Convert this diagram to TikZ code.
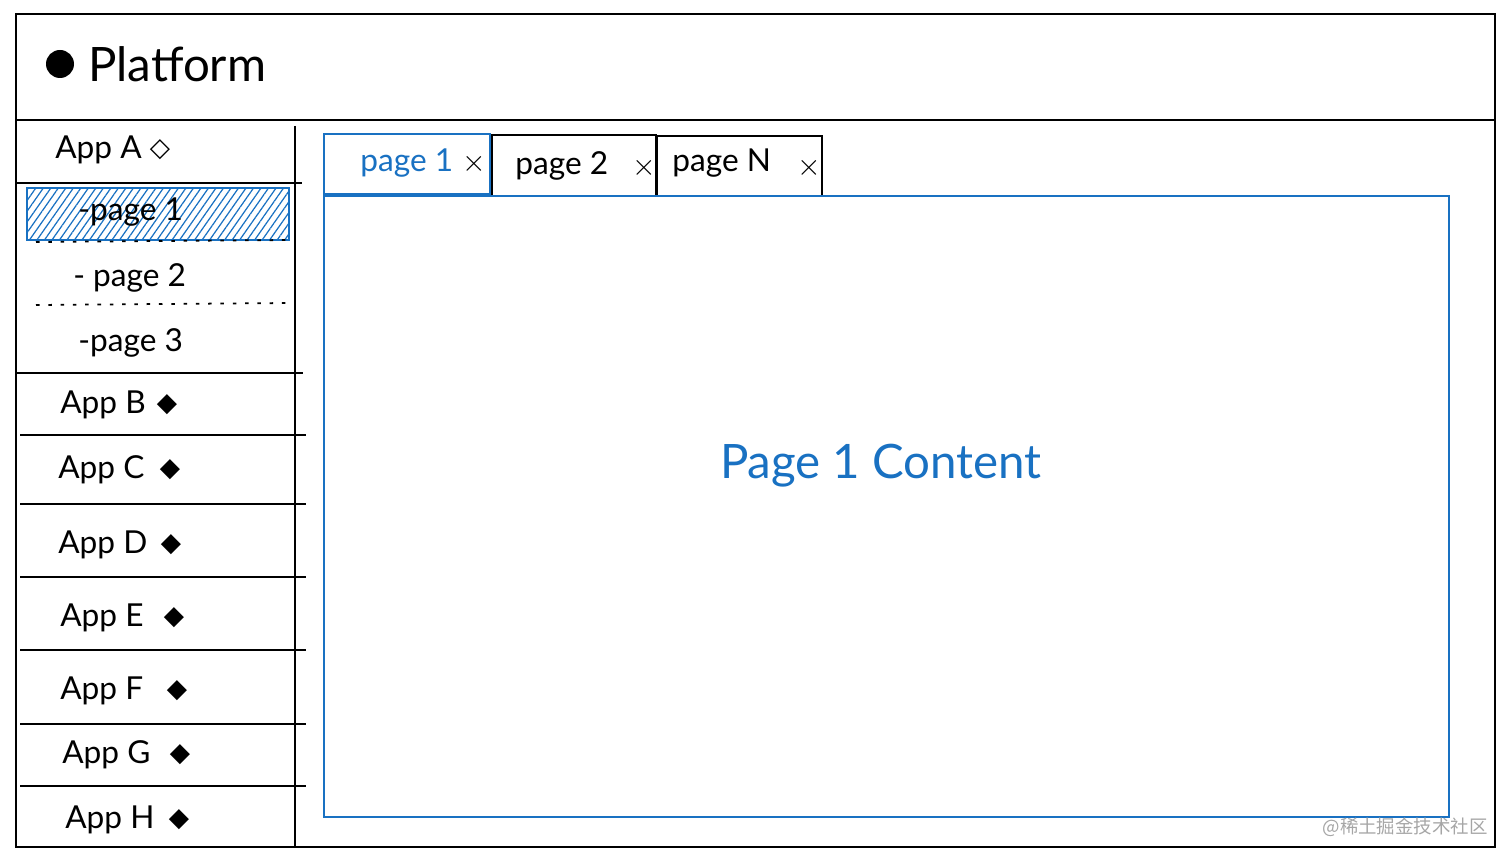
\documentclass[tikz,border=0pt]{standalone}
\usepackage{fontspec}
\setmainfont{Lato}
\newfontfamily\symfont{DejaVu Sans}
\newfontfamily\cjk{Noto Sans CJK SC}
\usetikzlibrary{patterns.meta}
\definecolor{exblue}{HTML}{1971C2}
\tikzset{
  frame/.style={draw=black, line width=1.2pt},
  bluebox/.style={draw=exblue, line width=1pt},
  applabel/.style={anchor=west, font=\fontsize{18}{20}\selectfont, inner sep=0pt},
  tablabel/.style={anchor=west, font=\fontsize{18}{20}\selectfont, inner sep=0pt},
  closex/.style={font=\fontsize{17}{18}\selectfont, inner sep=0pt},
  dotline/.style={line width=1pt, dash pattern=on 2pt off 5pt}
}
\begin{document}
\begin{tikzpicture}[x=0.02cm,y=-0.02cm]
\useasboundingbox (0,0) rectangle (1512,861);

% outer frame and header
\draw[frame] (16,14) rectangle (1495,847);
\draw[frame] (16,120)--(1495,120);
\fill (60,64) circle (14);
\node[anchor=west, font=\fontsize{27}{30}\selectfont, inner sep=0pt] (title) at (88,64) {Platform};

% sidebar
\draw[frame] (295,126)--(295,847);
\node[applabel] (appA) at (55,150) {App A};
\node[inner sep=0pt, font=\symfont\fontsize{15}{16}\selectfont] (diaA) at (160,150) {◇};
\draw[frame] (16,183)--(302,183);
\fill[pattern={Lines[angle=55,distance=3.5pt,line width=0.7pt]}, pattern color=exblue] (27,188) rectangle (289,240);
\draw[bluebox] (27,188) rectangle (289,240);
\node[applabel] (pageA1) at (78,212) {-page 1};
\draw[dotline] (36,242)--(289,240);
\node[applabel] (pageA2) at (73,278) {- page 2};
\draw[dotline] (36,305)--(289,303);
\node[applabel] (pageA3) at (78,343) {-page 3};
\draw[frame] (16,373)--(303,373);
\foreach \name/\y/\dx/\dd [count=\i] in {B/405/60/167, C/470/58/170, D/545/58/171, E/618/60/174,
    F/691/60/177, G/755/62/180, H/820/65/179}{
  \node[applabel] (app\name) at (\dx,\y) {App \name};
  \node[inner sep=0pt, font=\symfont\fontsize{15}{16}\selectfont] (dia\name) at (\dd,\y) {◆};
}
\foreach \y in {435,504,577,650,724,786}
  \draw[frame] (20,\y)--(306,\y);

% tabs
\draw[bluebox] (324,134) rectangle (490,194);
\node[tablabel, text=exblue] (tab1) at (360,163) {page 1};
\node[closex] (close1) at (474,164) {$\times$};
\draw[frame] (492,135) rectangle (656,196);
\node[tablabel] (tab2) at (515,166) {page 2};
\node[closex] (close2) at (644,168) {$\times$};
\draw[frame] (657,136) rectangle (822,196);
\node[tablabel] (tabN) at (672,163) {page N};
\node[closex] (closeN) at (809,168) {$\times$};

% content area
\draw[bluebox] (324,196) rectangle (1449,817);
\node[text=exblue, font=\fontsize{27}{32}\selectfont] (content) at (881,466) {Page 1 Content};

% watermark
\node[anchor=east, text=black!35, font=\cjk\fontsize{10.5}{12}\selectfont, inner sep=0pt] (mark) at (1488,827) {@稀土掘金技术社区};
\end{tikzpicture}
\end{document}
